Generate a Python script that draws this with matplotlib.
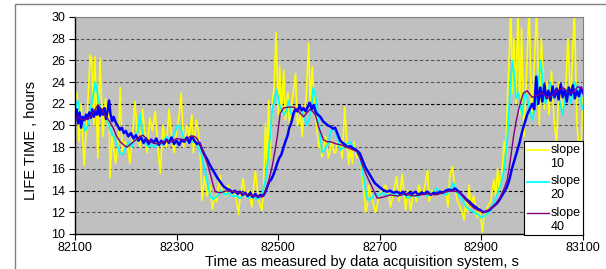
import matplotlib
matplotlib.use("Agg")
import matplotlib.pyplot as plt
from matplotlib.patches import Rectangle
from matplotlib.legend_handler import HandlerLine2D

plt.rcParams['font.family'] = ['Liberation Sans', 'DejaVu Sans']

# slope 10 (yellow)
yellow_t = [82100, 82104, 82108, 82112, 82118, 82124, 82130, 82133, 82137, 82139,
            82145, 82149, 82155, 82160, 82164, 82167, 82169, 82173, 82180, 82186,
            82189, 82193, 82198, 82204, 82208, 82213, 82218, 82223, 82228, 82233,
            82238, 82242, 82247, 82252, 82258, 82263, 82268, 82273, 82280, 82285,
            82290, 82295, 82300, 82305, 82309, 82314, 82320, 82325, 82330, 82333,
            82339, 82343, 82347, 82350, 82355, 82360, 82366, 82370, 82376, 82379,
            82383, 82386, 82389, 82396, 82402, 82409, 82415, 82422, 82425, 82431,
            82435, 82442, 82448, 82455, 82461, 82468, 82471, 82475, 82478, 82481,
            82484, 82488, 82492, 82496, 82500, 82503, 82506, 82511, 82514, 82519,
            82523, 82527, 82534, 82538, 82544, 82547, 82550, 82555, 82560, 82563,
            82567, 82570, 82574, 82580, 82583, 82586, 82593, 82599, 82606, 82610,
            82613, 82619, 82626, 82631, 82635, 82639, 82642, 82646, 82649, 82655,
            82659, 82665, 82669, 82672, 82675, 82678, 82685, 82692, 82698, 82705,
            82711, 82718, 82721, 82728, 82733, 82738, 82744, 82751, 82755, 82761,
            82767, 82772, 82777, 82782, 82787, 82794, 82797, 82803, 82810, 82816,
            82823, 82830, 82834, 82838, 82843, 82847, 82853, 82858, 82862, 82866,
            82869, 82872, 82876, 82879, 82885, 82892, 82895, 82899, 82902, 82905,
            82912, 82918, 82925, 82928, 82932, 82935, 82938, 82941, 82945, 82948,
            82951, 82954, 82958, 82961, 82964, 82968, 82972, 82976, 82979, 82984,
            82989, 82994, 82999, 83004, 83009, 83014, 83018, 83024, 83029, 83033,
            83038, 83043, 83048, 83053, 83060, 83066, 83070, 83076, 83083, 83088,
            83093, 83097, 83100]
yellow_v = [22.5, 23.0, 18.5, 22.0, 16.3, 21.0, 26.5, 26.0, 20.0, 26.3,
            17.0, 26.2, 19.0, 22.5, 20.0, 22.0, 15.2, 19.0, 16.5, 19.0,
            23.5, 17.5, 18.5, 18.0, 16.5, 19.0, 22.2, 19.0, 18.0, 21.5,
            19.0, 17.5, 20.7, 19.5, 21.3, 18.0, 15.6, 20.0, 18.0, 21.5,
            19.0, 17.5, 19.5, 21.0, 23.0, 18.0, 20.0, 19.0, 21.0, 17.5,
            20.5, 19.4, 17.0, 13.1, 15.3, 13.5, 14.5, 12.3, 13.5, 13.0,
            14.5, 15.4, 14.0, 13.5, 14.5, 13.5, 14.0, 11.8, 13.5, 15.1,
            13.5, 14.0, 12.5, 15.8, 13.2, 12.2, 14.0, 20.2, 16.0, 22.3,
            17.0, 22.0, 23.6, 28.6, 21.0, 25.5, 21.0, 25.1, 20.5, 23.0,
            19.5, 22.0, 24.8, 20.0, 21.0, 19.0, 21.0, 22.5, 27.6, 22.0,
            25.4, 23.0, 20.5, 18.0, 18.5, 17.1, 19.0, 17.0, 18.5, 17.5,
            17.5, 19.0, 17.0, 21.7, 18.5, 16.4, 18.0, 16.5, 18.5, 17.0,
            17.5, 15.5, 14.0, 12.0, 12.5, 14.5, 13.2, 12.0, 13.5, 14.0,
            14.5, 13.5, 12.5, 14.0, 15.3, 13.0, 15.5, 12.2, 14.0, 12.2,
            14.0, 13.0, 14.5, 13.5, 14.0, 15.9, 13.0, 14.0, 13.5, 14.0,
            13.8, 14.0, 12.5, 15.5, 16.2, 14.5, 13.0, 12.5, 12.0, 11.3,
            13.0, 12.0, 14.5, 12.5, 13.5, 11.5, 12.5, 11.5, 10.2, 11.5,
            12.5, 13.0, 15.0, 13.5, 16.0, 14.0, 15.0, 16.0, 18.5, 17.0,
            22.0, 25.5, 31.0, 23.0, 28.0, 22.0, 31.0, 21.0, 29.0, 19.0,
            25.0, 31.0, 20.5, 25.5, 31.0, 20.0, 28.0, 21.5, 24.0, 21.0,
            25.0, 20.5, 18.3, 24.0, 21.5, 23.0, 28.0, 22.0, 31.0, 20.0,
            17.5, 19.0, 22.5]

# slope 20 (cyan)
cyan_t = [82100, 82105, 82110, 82115, 82120, 82125, 82130, 82135, 82140, 82146,
          82152, 82158, 82163, 82170, 82176, 82182, 82188, 82194, 82200, 82206,
          82212, 82218, 82224, 82228, 82232, 82238, 82244, 82250, 82258, 82265,
          82272, 82280, 82288, 82296, 82302, 82308, 82314, 82320, 82328, 82336,
          82342, 82348, 82355, 82362, 82366, 82372, 82380, 82388, 82395, 82402,
          82410, 82418, 82426, 82434, 82442, 82450, 82458, 82464, 82470, 82475,
          82480, 82485, 82488, 82493, 82497, 82502, 82506, 82512, 82517, 82520,
          82526, 82532, 82538, 82544, 82550, 82556, 82560, 82565, 82569, 82574,
          82580, 82586, 82592, 82598, 82604, 82610, 82616, 82622, 82628, 82635,
          82642, 82648, 82655, 82661, 82667, 82672, 82677, 82684, 82690, 82697,
          82705, 82715, 82725, 82735, 82745, 82755, 82765, 82775, 82785, 82795,
          82805, 82812, 82820, 82830, 82838, 82845, 82850, 82856, 82862, 82870,
          82878, 82886, 82894, 82900, 82908, 82915, 82922, 82930, 82938, 82945,
          82951, 82957, 82961, 82965, 82968, 82973, 82980, 82986, 82990, 82995,
          83000, 83007, 83012, 83017, 83022, 83026, 83031, 83036, 83042, 83050,
          83055, 83060, 83065, 83070, 83076, 83083, 83088, 83093, 83097, 83100]
cyan_v = [21.5, 22.3, 21.0, 20.5, 19.5, 20.0, 21.5, 22.5, 24.0, 22.5,
          21.0, 21.5, 20.5, 19.5, 19.0, 18.3, 17.5, 17.3, 18.0, 18.5,
          18.0, 18.8, 19.5, 21.1, 19.5, 18.5, 18.0, 18.2, 18.0, 18.5,
          18.2, 19.0, 18.5, 19.3, 20.0, 19.8, 18.8, 18.8, 18.5, 18.5,
          18.0, 17.5, 16.0, 14.5, 13.5, 13.2, 13.5, 14.0, 13.6, 13.8,
          13.5, 13.5, 13.3, 13.8, 13.3, 13.5, 13.2, 13.4, 14.0, 15.0,
          17.0, 19.5, 21.4, 22.5, 23.3, 22.0, 21.5, 21.0, 21.5, 22.3,
          21.0, 21.2, 21.5, 21.8, 21.0, 20.0, 20.5, 21.5, 23.5, 22.5,
          20.5, 17.5, 17.8, 18.3, 19.5, 19.8, 19.0, 17.7, 18.0, 18.3,
          18.5, 18.0, 17.5, 17.0, 15.5, 14.0, 13.1, 13.3, 13.8, 13.5,
          13.8, 13.5, 13.8, 13.5, 13.8, 13.3, 13.6, 13.4, 13.8, 13.5,
          13.8, 14.2, 13.8, 13.6, 14.0, 14.7, 14.0, 13.5, 13.2, 12.5,
          12.2, 12.0, 11.8, 11.5, 11.7, 12.0, 12.5, 13.5, 14.5, 16.0,
          18.9, 23.5, 26.0, 24.5, 22.5, 23.0, 21.0, 23.0, 22.5, 21.5,
          20.5, 22.0, 24.0, 26.0, 23.5, 22.0, 23.0, 24.0, 22.5, 23.0,
          22.0, 21.0, 22.5, 23.5, 22.0, 24.0, 23.5, 23.0, 22.0, 21.5]

# slope 40 (purple)
purple_t = [82100, 82110, 82120, 82130, 82140, 82145, 82155, 82165, 82175, 82182,
            82189, 82196, 82202, 82210, 82220, 82228, 82234, 82242, 82250, 82260,
            82270, 82280, 82290, 82300, 82310, 82320, 82327, 82335, 82340, 82346,
            82352, 82360, 82366, 82372, 82376, 82386, 82400, 82415, 82425, 82440,
            82455, 82468, 82473, 82478, 82483, 82488, 82493, 82498, 82504, 82510,
            82520, 82530, 82537, 82544, 82550, 82557, 82563, 82568, 82573, 82580,
            82589, 82596, 82603, 82615, 82625, 82636, 82645, 82655, 82661, 82667,
            82674, 82681, 82688, 82695, 82707, 82720, 82735, 82750, 82765, 82780,
            82795, 82810, 82825, 82840, 82853, 82860, 82870, 82878, 82885, 82892,
            82904, 82915, 82923, 82930, 82937, 82944, 82951, 82957, 82963, 82968,
            82973, 82978, 82983, 82990, 83000, 83010, 83020, 83030, 83040, 83050,
            83060, 83070, 83080, 83090, 83100]
purple_v = [21.0, 20.6, 20.5, 20.8, 21.5, 21.9, 21.3, 20.6, 19.8, 19.0,
            18.5, 18.2, 18.0, 18.3, 18.7, 19.0, 19.1, 18.7, 18.5, 18.3,
            18.4, 18.6, 18.5, 18.8, 18.7, 18.7, 19.0, 19.0, 18.8, 18.3,
            17.5, 16.6, 15.6, 14.5, 13.9, 13.8, 14.0, 13.9, 13.8, 13.6,
            13.5, 13.4, 13.8, 14.3, 15.2, 16.2, 17.5, 18.9, 21.1, 21.6,
            21.7, 21.7, 21.5, 21.1, 20.8, 21.2, 21.5, 21.3, 21.0, 19.8,
            18.7, 18.5, 18.5, 18.3, 18.2, 18.0, 17.8, 17.6, 17.0, 16.2,
            15.4, 14.7, 14.0, 13.3, 13.4, 13.6, 13.5, 13.7, 13.5, 13.6,
            13.7, 13.6, 13.8, 14.0, 13.9, 13.7, 13.1, 12.7, 12.4, 12.2,
            12.0, 12.2, 12.5, 12.9, 13.4, 14.1, 15.0, 16.8, 18.9, 20.3,
            21.4, 22.3, 23.0, 23.2, 22.6, 22.8, 23.0, 22.5, 22.8, 23.2,
            23.5, 23.1, 23.0, 23.6, 23.3]

# unlabelled blue trace
blue_t = [82100, 82103, 82106, 82109, 82112, 82115, 82118, 82122, 82125, 82128,
          82131, 82134, 82137, 82140, 82143, 82146, 82149, 82152, 82155, 82158,
          82161, 82164, 82167, 82170, 82173, 82176, 82180, 82184, 82188, 82192,
          82196, 82200, 82205, 82210, 82215, 82220, 82225, 82230, 82235, 82240,
          82245, 82250, 82255, 82260, 82265, 82270, 82275, 82280, 82285, 82290,
          82295, 82300, 82305, 82310, 82315, 82320, 82325, 82330, 82335, 82340,
          82345, 82350, 82355, 82360, 82365, 82370, 82375, 82380, 82386, 82392,
          82398, 82405, 82410, 82415, 82420, 82425, 82430, 82435, 82440, 82445,
          82450, 82455, 82460, 82465, 82470, 82474, 82478, 82482, 82486, 82490,
          82494, 82498, 82502, 82506, 82510, 82514, 82518, 82522, 82526, 82530,
          82534, 82538, 82542, 82546, 82550, 82554, 82558, 82562, 82566, 82570,
          82574, 82578, 82583, 82588, 82593, 82598, 82603, 82608, 82612, 82617,
          82622, 82627, 82632, 82637, 82642, 82647, 82652, 82657, 82661, 82666,
          82671, 82676, 82681, 82686, 82690, 82695, 82700, 82707, 82714, 82720,
          82727, 82734, 82740, 82746, 82752, 82758, 82764, 82770, 82776, 82782,
          82788, 82794, 82800, 82806, 82812, 82818, 82824, 82830, 82836, 82842,
          82848, 82853, 82858, 82864, 82870, 82876, 82882, 82888, 82894, 82898,
          82904, 82910, 82916, 82920, 82925, 82930, 82935, 82940, 82945, 82950,
          82955, 82960, 82965, 82970, 82975, 82980, 82985, 82990, 82995, 83000,
          83004, 83008, 83012, 83016, 83020, 83024, 83028, 83032, 83036, 83040,
          83044, 83048, 83052, 83056, 83060, 83064, 83068, 83072, 83076, 83080,
          83084, 83088, 83092, 83096, 83100]
blue_v = [20.8, 21.5, 20.2, 21.2, 19.8, 20.8, 20.5, 21.0, 20.6, 21.2,
          20.7, 21.5, 20.8, 21.3, 21.0, 21.8, 20.9, 21.5, 21.0, 21.6,
          20.6, 21.3, 22.3, 21.0, 20.4, 20.8, 20.3, 20.0, 19.6, 19.8,
          19.3, 19.5, 19.0, 19.3, 18.8, 19.1, 18.6, 18.9, 18.4, 18.8,
          18.3, 18.7, 18.4, 18.8, 18.2, 18.6, 18.3, 18.7, 18.4, 18.9,
          18.3, 18.6, 18.2, 18.7, 18.5, 18.9, 18.4, 19.0, 18.6, 18.3,
          18.4, 17.8, 17.3, 16.9, 16.4, 16.0, 15.6, 15.2, 14.8, 14.4,
          14.2, 14.05, 13.8, 14.0, 13.7, 13.9, 13.6, 13.8, 13.5, 13.8,
          13.4, 13.7, 13.4, 13.6, 13.5, 13.8, 14.3, 14.8, 15.0, 15.4,
          15.9, 16.5, 17.0, 17.3, 17.9, 18.5, 19.0, 19.8, 20.3, 21.1,
          21.5, 21.3, 21.8, 21.4, 21.6, 21.3, 21.7, 22.1, 21.5, 21.9,
          21.2, 21.0, 20.8, 20.4, 20.2, 20.0, 19.9, 19.7, 19.8, 19.2,
          18.6, 18.4, 18.2, 18.0, 18.1, 17.9, 17.8, 17.6, 17.4, 16.8,
          16.2, 15.8, 15.4, 15.0, 14.7, 14.5, 14.3, 14.05, 13.9, 14.0,
          13.8, 13.9, 13.7, 13.9, 13.6, 13.8, 13.7, 13.9, 13.6, 13.8,
          13.7, 13.9, 13.6, 13.8, 13.7, 13.9, 13.8, 14.0, 14.1, 14.0,
          14.2, 14.0, 13.8, 13.5, 13.2, 13.0, 12.7, 12.5, 12.3, 12.2,
          12.0, 12.1, 12.2, 12.4, 12.6, 12.8, 13.1, 13.5, 13.9, 14.3,
          15.0, 16.0, 16.8, 17.6, 18.4, 19.4, 20.2, 21.0, 21.5, 22.0,
          21.5, 24.5, 22.0, 23.5, 22.2, 23.8, 22.5, 23.2, 22.3, 23.6,
          22.6, 23.4, 22.4, 23.8, 22.6, 23.3, 22.2, 23.5, 22.8, 23.7,
          22.5, 23.2, 22.7, 23.5, 23.0]

legend_labels = ['slope\n10', 'slope\n20', 'slope\n40']
x_ticks = [82100, 82300, 82500, 82700, 82900, 83100]
y_ticks = list(range(10, 31, 2))


class TopLineHandler(HandlerLine2D):
    # put the legend line next to the first text line, as in the original
    def create_artists(self, legend, orig_handle, xdescent, ydescent,
                       width, height, fontsize, trans):
        arts = super().create_artists(legend, orig_handle, xdescent, ydescent,
                                      width, height, fontsize, trans)
        for a in arts:
            a.set_ydata([y + 0.55 * fontsize for y in a.get_ydata()])
        return arts


fig = plt.figure(figsize=(6.06, 2.69), dpi=100)
ax = fig.add_axes([75/606, 1 - 234/269, 508/606, 217/269])
ax.set_facecolor('#c0c0c0')

l1, = ax.plot(yellow_t, yellow_v, color='#ffff00', lw=1.2)
l2, = ax.plot(cyan_t, cyan_v, color='#00ffff', lw=1.3)
ax.plot(blue_t, blue_v, color='#0000ff', lw=1.8)
l3, = ax.plot(purple_t, purple_v, color='#800080', lw=1.0)

ax.set_xlim(82100, 83100)
ax.set_ylim(10, 30)
ax.set_xticks(x_ticks)
ax.set_yticks(y_ticks)
ax.tick_params(labelsize=9, length=4, direction='out')
ax.tick_params(axis='x', pad=2)
ax.tick_params(axis='y', pad=3)

ax.yaxis.grid(True, linestyle=(0, (3, 2)), linewidth=0.8, color='#555555')
for val, gl in zip(y_ticks, ax.get_ygridlines()):
    if val in (14, 22):
        gl.set_color('black')
ax.set_axisbelow(True)

for side in ('top', 'right'):
    ax.spines[side].set_color('#808080')
    ax.spines[side].set_linewidth(0.8)
for side in ('left', 'bottom'):
    ax.spines[side].set_color('black')
    ax.spines[side].set_linewidth(1.0)

leg = ax.legend([l1, l2, l3], legend_labels, loc='lower right',
                bbox_to_anchor=(1.0, -0.005), fontsize=9, frameon=True,
                fancybox=False, handlelength=1.8, handletextpad=0.1,
                borderpad=0.2, labelspacing=0.45, borderaxespad=0,
                handler_map={matplotlib.lines.Line2D: TopLineHandler()})
leg.get_frame().set_edgecolor('black')
leg.get_frame().set_linewidth(0.8)
leg.get_frame().set_facecolor('white')
leg.get_frame().set_alpha(1)

fig.text(31/606, 1 - 140/269, 'LIFE TIME , hours', rotation=90,
         ha='center', va='center', fontsize=10.5)
fig.text(362/606, 1 - 262/269, 'Time as measured by data acquisition system, s',
         ha='center', va='center', fontsize=10.5)

fig.patches.append(Rectangle((15/606, -0.1), 1.1, 0.1 + (269 - 4)/269,
                             transform=fig.transFigure, fill=False,
                             edgecolor='#808080', lw=1))

fig.savefig('out.png', dpi=100)
